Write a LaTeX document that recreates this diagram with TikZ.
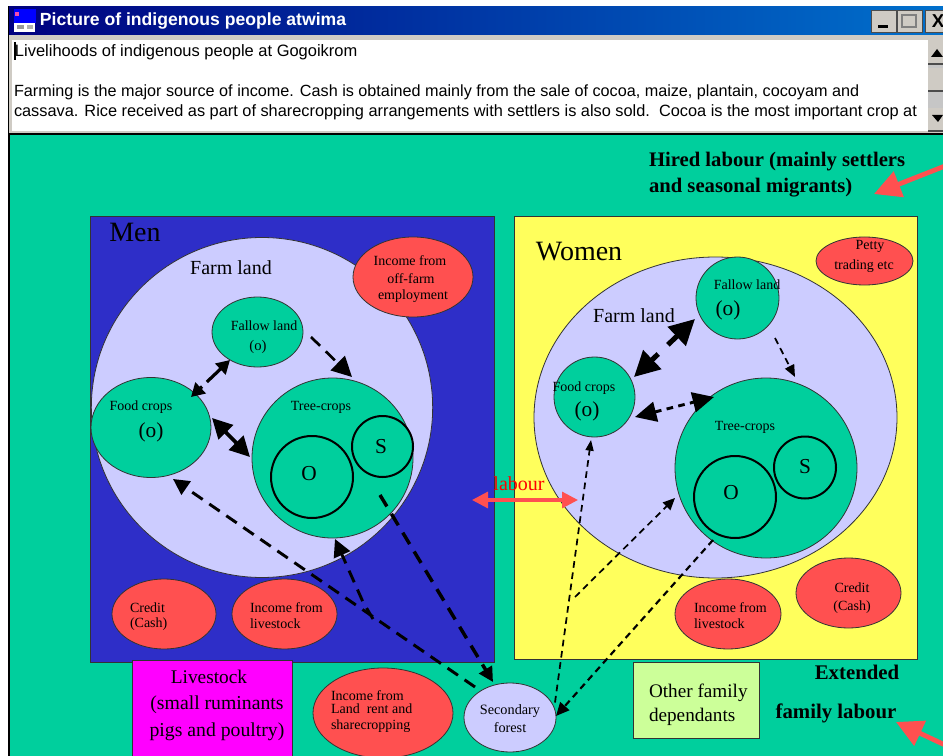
\documentclass[tikz,border=0pt]{standalone}
\usepackage{fontspec}
\setmainfont{Liberation Serif}
\setsansfont{Liberation Sans}
\usetikzlibrary{arrows.meta,shapes.geometric}
\definecolor{teal1}{HTML}{00CF9D}
\definecolor{menblue}{HTML}{2E2EC8}
\definecolor{lav}{HTML}{CCCCFF}
\definecolor{redc}{HTML}{FF5050}
\definecolor{yel}{HTML}{FFFF5C}
\definecolor{mag}{HTML}{FF00FF}
\definecolor{lgreen}{HTML}{CCFF99}
\definecolor{wingray}{HTML}{CFCBC4}
\newcommand{\fz}[1]{\fontsize{#1}{#1}\selectfont}
\tikzset{
  x=0.75pt,y=-0.75pt,
  oval/.style={ellipse,draw=black!80,line width=0.6pt,inner sep=0pt},
  ring/.style={circle,draw=black,line width=1.5pt,inner sep=0pt,fill=teal1},
  panel/.style={rectangle,draw=black!80,line width=0.7pt,inner sep=0pt},
  txt/.style={inner sep=0pt,outer sep=0pt,text=black,align=center},
  txl/.style={inner sep=0pt,outer sep=0pt,text=black,anchor=west},
  dash1/.style={line width=2.2pt,dash pattern=on 9.5pt off 6pt},
  dash2/.style={line width=1.3pt,dash pattern=on 5pt off 3.5pt},
  btn/.style={rectangle,fill=wingray,draw=black!70,line width=0.6pt,inner sep=0pt,minimum width=18.75pt,minimum height=16.5pt},
}
\begin{document}
\begin{tikzpicture}
\useasboundingbox (0,0) rectangle (943,756);
\clip (0,0) rectangle (943,756);
\fill[white] (0,0) rectangle (943,756);
% window
\fill[black] (8,6) rectangle (943,135);
\shade[left color=blue!50!black,right color=blue!45!cyan!80!black,shading angle=90] (9,7) rectangle (943,35);
\fill[wingray] (9,35) rectangle (943,133);
\fill[white] (12,40) rectangle (928,131);
\node[txl,text=white] (title) at (40,21) {\sffamily\bfseries\fz{13.2}Picture of indigenous people atwima};
\node[rectangle,fill=blue,inner sep=0pt,minimum width=16.5pt,minimum height=11pt] (icon) at (24.5,16) {};
\fill[white] (14,23) rectangle (35,32);
\fill[gray!80] (17,25) rectangle (24,29);
\fill[gray!60] (27,25) rectangle (33,29);
\fill[magenta!70!white] (15,12) rectangle (19,16);
\node[btn] (bmin) at (883.5,21) {};
\node[btn] (bmax) at (909.5,21) {};
\node[btn] (bclose) at (938,21) {\sffamily\bfseries\fz{14}X};
\fill[black] (878,25) rectangle (888,28);
\draw[gray,line width=0.8pt] (902,15) rectangle (916,27);
\node[txl] (l1) at (15,52) {\sffamily\fz{12.35}Livelihoods of indigenous people at Gogoikrom};
\node[txl] (l2) at (14,92) {\sffamily\fz{12.15}Farming is the major source of income. Cash is obtained mainly from the sale of cocoa, maize, plantain, cocoyam and};
\node[txl] (l3) at (14,112) {\sffamily\fz{12.25}cassava. Rice received as part of sharecropping arrangements with settlers is also sold.\ \ Cocoa is the most important crop at};
\draw[black,line width=1pt] (15,42) -- (15,60);
\fill[gray!45] (928,40) rectangle (943,132);
\fill[wingray] (928,40) rectangle (943,64);
\draw[black!70,line width=0.8pt] (928,64) -- (943,64);
\fill[black] (931,57) -- (943,57) -- (937,49) -- cycle;
\fill[wingray] (928,68) rectangle (943,91);
\draw[black!70,line width=0.8pt] (928,91) -- (943,91);
\fill[wingray] (928,108) rectangle (943,131);
\draw[black!70,line width=0.8pt] (928,131) -- (943,131);
\fill[black] (932,115) -- (943,115) -- (938,122) -- cycle;
% canvas
\fill[teal1] (9,135) rectangle (943,756);
\draw[black,line width=0.8pt] (9,135) -- (9,756);
% panels
\node[panel,fill=menblue,minimum width=303pt,minimum height=334.5pt] (men) at (292,439) {};
\node[panel,fill=yel,minimum width=302.25pt,minimum height=332.25pt] (women) at (715.5,437.5) {};
% men
\node[oval,fill=lav,minimum width=256pt,minimum height=255pt] (farmm) at (262,407.5) {};
\node[oval,fill=redc,minimum width=90pt,minimum height=60pt] (off) at (413,277) {};
\node[oval,fill=teal1,minimum width=68.25pt,minimum height=52.5pt] (fallm) at (257.5,332) {};
\node[oval,fill=teal1,minimum width=90pt,minimum height=75pt] (foodm) at (151,427.5) {};
\node[oval,fill=teal1,minimum width=120.75pt,minimum height=120pt] (treem) at (332.5,458) {};
\node[ring,minimum width=61.5pt] (om) at (312,477) {};
\node[ring,minimum width=45.75pt] (sm) at (382.5,446.5) {};
\node[oval,fill=redc,minimum width=78pt,minimum height=52.5pt] (credm) at (164,614) {};
\node[oval,fill=redc,minimum width=78.75pt,minimum height=52.5pt] (livm) at (284.5,614) {};
% women
\node[oval,fill=lav,minimum width=272.25pt,minimum height=240.75pt] (farmw) at (715.5,417.5) {};
\node[oval,fill=redc,minimum width=72.75pt,minimum height=36pt] (petty) at (864.5,261) {};
\node[oval,fill=teal1,minimum width=62.25pt,minimum height=61.5pt] (fallw) at (737.5,298) {};
\node[oval,fill=teal1,minimum width=60.75pt,minimum height=60pt] (foodw) at (594.5,397) {};
\node[oval,fill=teal1,minimum width=136.5pt,minimum height=135pt] (treew) at (766,468) {};
\node[ring,minimum width=61.5pt] (ow) at (735,497) {};
\node[ring,minimum width=46.5pt] (sw) at (805,467.5) {};
\node[oval,fill=redc,minimum width=79.5pt,minimum height=52.5pt] (livw) at (728,614) {};
\node[oval,fill=redc,minimum width=78.75pt,minimum height=52.5pt] (credw) at (848.5,593) {};
% bottom
\node[panel,fill=mag,minimum width=120pt,minimum height=90pt] (stock) at (212,720) {};
\node[oval,fill=redc,minimum width=105pt,minimum height=67.5pt] (land) at (383,713) {};
\node[oval,fill=lav,minimum width=69pt,minimum height=51.75pt] (sec) at (510,717.5) {};
\node[panel,fill=lgreen,minimum width=95pt,minimum height=57pt] (other) at (696.5,700) {};
% helper coordinates
\coordinate (kinkm1) at (373,619);
\coordinate (kinkm2) at (363,602);
\coordinate (kinkw) at (575,597);
\coordinate (hiredtail) at (945,166);
\coordinate (hiredtip) at (874,194);
\coordinate (famtail) at (945,745);
\coordinate (famtip) at (896,722);
\coordinate (labl) at (472,500);
\coordinate (labr) at (578,500);
% men's connectors
\draw[{Triangle[length=10pt,width=11pt]}-{Triangle[length=10pt,width=11pt]},line width=2.4pt,dash pattern=on 2pt off 5pt on 30pt off 1pt] ([shift={(40,-30.5)}]foodm.center) -- ([shift={(-27.5,28)}]fallm.center);
\draw[-{Triangle[length=15pt,width=15pt]},dash1,line width=2pt] ([shift={(53.5,5)}]fallm.center) -- ([shift={(19.5,-81)}]treem.center);
\draw[{Triangle[length=15pt,width=15pt]}-{Triangle[length=15pt,width=15pt]},line width=2.8pt] ([shift={(61,-9.5)}]foodm.center) -- ([shift={(-82.5,-1)}]treem.center);
\draw[-{Triangle[length=12pt,width=12pt]},dash1] ([shift={(-35,-30.5)}]sec.center) -- ([shift={(22,51.5)}]foodm.center);
\draw[-{Triangle[length=13pt,width=13pt]},dash1] (kinkm1) -- (kinkm2) -- ([shift={(2.5,81)}]treem.center);
\draw[-{Triangle[length=11pt,width=11pt]},dash1,line width=2.6pt,dash pattern=on 10pt off 6.5pt] ([shift={(47.5,37)}]treem.center) -- ([shift={(-17,-35.5)}]sec.center);
% women's connectors
\draw[{Triangle[length=19pt,width=19pt]}-{Triangle[length=19pt,width=19pt]},line width=3.8pt,dash pattern=on 7pt off 10pt on 30pt off 1pt] ([shift={(39.5,-20)}]foodw.center) -- ([shift={(-42.5,21)}]fallw.center);
\draw[-{Triangle[length=9pt,width=7.5pt]},dash2] ([shift={(37.5,40)}]fallw.center) -- ([shift={(29,-91)}]treew.center);
\draw[{Triangle[length=16pt,width=15pt]}-{Triangle[length=16pt,width=15pt]},dash1,dash pattern=on 5pt off 4pt] ([shift={(40.5,20)}]foodw.center) -- ([shift={(-52,-71)}]treew.center);
\draw[-{Triangle[length=8pt,width=6pt]},dash2] ([shift={(45,-15)}]sec.center) -- ([shift={(-3.5,43)}]foodw.center);
\draw[-{Triangle[length=9pt,width=8pt]},dash2] (kinkw) -- ([shift={(-91,30)}]treew.center);
\draw[-{Triangle[length=10pt,width=9pt]},dash2,line width=1.6pt] ([shift={(-53,72)}]treew.center) -- ([shift={(46,-1.5)}]sec.center);
% red arrows
\draw[{Triangle[length=12pt,width=12pt]}-{Triangle[length=12pt,width=12pt]},redc,line width=2.4pt] (labl) -- (labr);
\draw[-{Triangle[length=20pt,width=20pt]},redc,line width=3.6pt] (hiredtail) -- (hiredtip);
\draw[-{Triangle[length=20pt,width=20pt]},redc,line width=3.6pt] (famtail) -- (famtip);
% texts
\node[txl,font=\bfseries\fz{15.5}] (t1) at (649,162) {Hired labour (mainly settlers};
\node[txl,font=\bfseries\fz{15.5}] (t2) at (649,188) {and seasonal migrants)};
\node[txt,font=\fz{21}] (tm) at (135,232) {Men};
\node[txt,font=\fz{15}] (tfm) at (231,268) {Farm land};
\node[txt,font=\fz{10.5}] (toff) at (410,261) {Income from};
\node[txt,font=\fz{10.5}] (toff2) at (411,279) {off-farm};
\node[txt,font=\fz{10.5}] (toff3) at (413,296) {employment};
\node[txt,font=\fz{10.5}] (tfa) at (264,326) {Fallow land};
\node[txt,font=\fz{11}] (tfao) at (258,347) {(o)};
\node[txt,font=\fz{10.5}] (tfo) at (141,407) {Food crops};
\node[txt,font=\fz{16}] (tfoo) at (151,432) {(o)};
\node[txt,font=\fz{10.5}] (ttr) at (321,407) {Tree-crops};
\node[txt,font=\fz{16}] (too) at (309,474) {O};
\node[txt,font=\fz{16}] (tss) at (381,447) {S};
\node[txl,font=\fz{10.5}] (tcr) at (130,608) {Credit};
\node[txl,font=\fz{10.5}] (tcr2) at (130,624) {(Cash)};
\node[txl,font=\fz{10.5}] (tli) at (250,608) {Income from};
\node[txl,font=\fz{10.5}] (tli2) at (250,624) {livestock};
\node[txt,font=\fz{21}] (tw) at (579,252) {Women};
\node[txt,font=\fz{15}] (tfw) at (634,316) {Farm land};
\node[txt,font=\fz{10.5}] (tpe) at (870,246) {Petty};
\node[txt,font=\fz{10.5}] (tpe2) at (864,266) {trading etc};
\node[txt,font=\fz{10.5}] (twfa) at (747,285) {Fallow land};
\node[txt,font=\fz{16}] (twfao) at (728,310) {(o)};
\node[txt,font=\fz{10.5}] (twfo) at (584,388) {Food crops};
\node[txt,font=\fz{16}] (twfoo) at (587,411) {(o)};
\node[txt,font=\fz{10.5}] (twt) at (745,427) {Tree-crops};
\node[txt,font=\fz{16}] (twoo) at (731,493) {O};
\node[txt,font=\fz{16}] (twss) at (805,467) {S};
\node[txt,font=\fz{15},text=red] (tlab) at (519,484) {labour};
\node[txl,font=\fz{10.5}] (twli) at (694,608) {Income from};
\node[txl,font=\fz{10.5}] (twli2) at (694,624) {livestock};
\node[txt,font=\fz{10.5}] (twc) at (852,588) {Credit};
\node[txt,font=\fz{10.5}] (twc2) at (852,607) {(Cash)};
\node[txt,font=\fz{14.5}] (ts1) at (209,677) {Livestock};
\node[txt,font=\fz{14.8}] (ts2) at (217,705) {(small ruminants};
\node[txt,font=\fz{14.8}] (ts3) at (217,732) {pigs and poultry)};
\node[txl,font=\fz{10.5}] (tla1) at (331,696) {Income from};
\node[txl,font=\fz{10.5}] (tla2) at (331,709) {Land\ \ rent and};
\node[txl,font=\fz{10.5}] (tla3) at (331,726) {sharecropping};
\node[txt,font=\fz{10.7}] (tse1) at (510,711) {Secondary};
\node[txt,font=\fz{10.7}] (tse2) at (510,728) {forest};
\node[txl,font=\fz{14.4}] (tot1) at (649,693) {Other family};
\node[txl,font=\fz{14.4}] (tot2) at (649,717) {dependants};
\node[txt,font=\bfseries\fz{15.6}] (tex) at (857,672) {Extended};
\node[txt,font=\bfseries\fz{15.6}] (tfl) at (836,713) {family labour};
\end{tikzpicture}
\end{document}
